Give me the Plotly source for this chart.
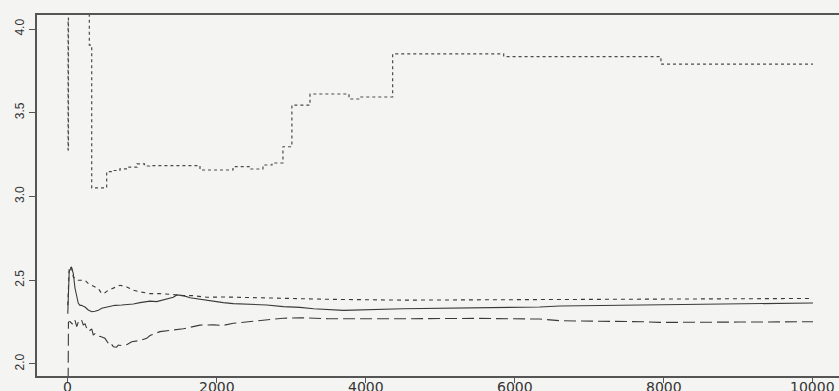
import plotly.graph_objects as go

# ---- data ----
x_ticks = [0, 2000, 4000, 6000, 8000, 10000]
x_tick_labels = ["0", "2000", "4000", "6000", "8000", "10000"]
y_ticks = [2.0, 2.5, 3.0, 3.5, 4.0]
y_tick_labels = ["2.0", "2.5", "3.0", "3.5", "4.0"]

# dotted step series
dot_x = [1, 5, 10, 290, 322, 523, 600, 700, 800, 930, 1030, 1100, 1775, 2218,
         2405, 2446, 2580, 2620, 2741, 2888, 3008, 3251, 3774, 3922, 4360, 5850,
         7960, 10000]
dot_y = [4.042, 3.278, 4.6, 3.904, 3.051, 3.148, 3.155, 3.165, 3.175, 3.195,
         3.182, 3.184, 3.158, 3.178, 3.178, 3.164, 3.164, 3.188, 3.20, 3.297,
         3.546, 3.612, 3.582, 3.594, 3.851, 3.835, 3.79, 3.79]

# short-dashed series
dash_x = [1, 20, 54, 75, 98, 121, 165, 232, 276, 322, 366, 411, 456, 500, 545,
          590, 635, 702, 746, 792, 880, 970, 1104, 1238, 1417, 1507, 1685, 1865,
          2088, 2312, 2670, 3117, 3500, 4495, 6000, 7700, 9000, 10000]
dash_y = [2.35, 2.58, 2.57, 2.52, 2.51, 2.50, 2.50, 2.50, 2.48, 2.47, 2.46,
          2.45, 2.42, 2.425, 2.44, 2.45, 2.46, 2.47, 2.465, 2.46, 2.44, 2.43,
          2.42, 2.42, 2.415, 2.408, 2.408, 2.398, 2.40, 2.398, 2.394, 2.388,
          2.386, 2.381, 2.384, 2.386, 2.389, 2.391]

# solid series
solid_x = [1, 20, 50, 75, 98, 121, 142, 165, 188, 209, 232, 276, 322, 366, 411,
           456, 545, 635, 725, 880, 970, 1104, 1194, 1328, 1417, 1463, 1551,
           1641, 1775, 1865, 1999, 2088, 2222, 2312, 2446, 2670, 2893, 3117,
           3300, 3700, 4495, 5000, 6000, 6333, 6605, 7000, 7712, 8500, 9300,
           10000]
solid_y = [2.30, 2.55, 2.58, 2.54, 2.452, 2.392, 2.362, 2.35, 2.35, 2.345,
           2.34, 2.322, 2.312, 2.315, 2.32, 2.333, 2.342, 2.35, 2.352, 2.358,
           2.366, 2.375, 2.372, 2.385, 2.398, 2.412, 2.408, 2.395, 2.385, 2.38,
           2.372, 2.366, 2.36, 2.358, 2.355, 2.352, 2.342, 2.338, 2.33, 2.32,
           2.33, 2.332, 2.335, 2.34, 2.346, 2.348, 2.35, 2.355, 2.36, 2.364]

# long-dashed series
ldash_x = [1, 10, 31, 54, 75, 98, 121, 142, 165, 188, 209, 232, 255, 276, 299,
           322, 343, 366, 389, 411, 433, 456, 500, 545, 568, 612, 657, 679, 702,
           746, 792, 859, 970, 1060, 1104, 1238, 1328, 1417, 1551, 1641, 1775,
           1954, 2088, 2222, 2446, 2670, 2893, 3117, 3500, 4495, 5500, 6333,
           6605, 7712, 7942, 9000, 10000]
ldash_y = [1.50, 2.25, 2.253, 2.24, 2.233, 2.26, 2.223, 2.25, 2.243, 2.26,
           2.233, 2.24, 2.213, 2.22, 2.20, 2.21, 2.173, 2.18, 2.17, 2.163,
           2.165, 2.16, 2.153, 2.123, 2.13, 2.103, 2.10, 2.113, 2.11, 2.113,
           2.115, 2.133, 2.14, 2.153, 2.17, 2.193, 2.20, 2.203, 2.21, 2.22,
           2.232, 2.233, 2.23, 2.243, 2.253, 2.267, 2.273, 2.276, 2.27, 2.27,
           2.272, 2.268, 2.258, 2.252, 2.248, 2.25, 2.252]

ink = "#3a3a3a"
fig = go.Figure()
fig.add_trace(go.Scatter(x=dot_x, y=dot_y, mode="lines", line_shape="hv",
                         line=dict(color="#4a4a4a", width=1.2, dash="dot"),
                         showlegend=False, hoverinfo="skip"))
fig.add_trace(go.Scatter(x=dash_x, y=dash_y, mode="lines",
                         line=dict(color=ink, width=1.1, dash="4px,4px"),
                         showlegend=False, hoverinfo="skip"))
fig.add_trace(go.Scatter(x=solid_x, y=solid_y, mode="lines",
                         line=dict(color=ink, width=1.1),
                         showlegend=False, hoverinfo="skip"))
fig.add_trace(go.Scatter(x=ldash_x, y=ldash_y, mode="lines",
                         line=dict(color=ink, width=1.1, dash="12px,5px"),
                         showlegend=False, hoverinfo="skip"))

# x tick labels placed just under the ticks (the reference crops them at the bottom)
for xv, lab in zip(x_ticks, x_tick_labels):
    fig.add_annotation(x=xv, y=0, xref="x", yref="paper", text=lab,
                       showarrow=False, xanchor="center", yanchor="top",
                       yshift=-2, borderpad=0,
                       font=dict(family="DejaVu Sans", size=14, color="#333"))

bg = "#f4f4f2"
fig.update_layout(
    width=839, height=391,
    margin=dict(l=37, r=0, t=15, b=15),
    paper_bgcolor=bg, plot_bgcolor=bg,
    font=dict(family="Liberation Sans, Arial, sans-serif", color="#333"),
    xaxis=dict(range=[-412, 10349], tickvals=x_ticks, showticklabels=False,
               showgrid=False, zeroline=False, showline=True, mirror=True,
               linecolor="#555", linewidth=1.5, ticks="outside", ticklen=5,
               tickcolor="#555", automargin=False),
    yaxis=dict(range=[1.928, 4.0836], tickvals=y_ticks, ticktext=y_tick_labels,
               showgrid=False, zeroline=False, showline=True, mirror=False,
               linecolor="#555", linewidth=1.5, ticks="outside", ticklen=6,
               tickcolor="#555", tickangle=-90, automargin=False,
               tickfont=dict(family="Liberation Sans", size=12, color="#333")),
)

fig.write_html(
    "out.html",
    config={"displayModeBar": False},
    post_script="document.body.style.margin='0';"
                "document.body.style.background='" + bg + "';"
                "document.body.style.overflow='hidden';",
)
